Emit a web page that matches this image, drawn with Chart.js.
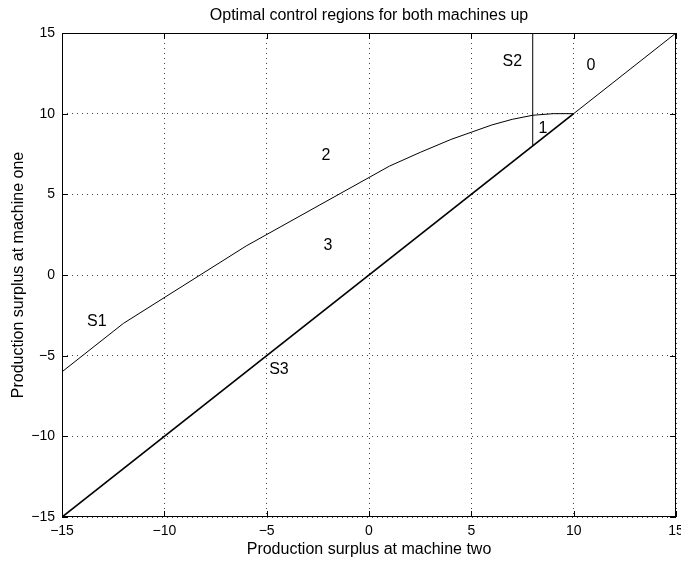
<!DOCTYPE html>
<html>
<head>
<meta charset="utf-8">
<script src="https://cdn.jsdelivr.net/npm/chart.js@4/dist/chart.umd.min.js"></script>
<style>
  html, body { margin: 0; padding: 0; background: #fff; }
  #wrap { width: 681px; height: 561px; position: relative; }
</style>
</head>
<body>
<div id="wrap"><canvas id="regions"></canvas></div>
<script>
// ── Switching curves (machine two surplus -> machine one surplus) ─────
const s1X = [-15, -12, -6, 1, 2.5, 4, 5, 6, 7, 8, 9, 10];
const s1Y = [-6, -3, 1.8, 6.75, 7.6, 8.4, 8.85, 9.3, 9.65, 9.9, 10, 10];

const s2X = [8, 8];
const s2Y = [8, 15];

const s3X = [-15, 10];
const s3Y = [-15, 10];

const diagX = [10, 15];
const diagY = [10, 15];

// region / curve labels
const labelText = ['S2', '0', '1', '2', '3', 'S1', 'S3'];
const labelX    = [7.0, 10.85, 8.5, -2.1, -2.0, -13.3, -4.4];
const labelY    = [13.2, 12.95, 9.05, 7.4, 1.85, -2.9, -5.85];

const tickVals = [-15, -10, -5, 0, 5, 10, 15];

const TITLE = 'Optimal control regions for both machines up';
const FONT = 'Liberation Sans, Arial, Helvetica, sans-serif';

function pts(xs, ys) { return xs.map((x, i) => ({ x, y: ys[i] })); }
function minus(v) { return String(v).replace('-', '\u2212'); }

// box, inward ticks, title over the axes and text labels, matlab style
const axesBox = {
  id: 'axesBox',
  afterDatasetsDraw(chart) {
    const { ctx, chartArea: a, scales: { x, y } } = chart;
    ctx.save();
    ctx.strokeStyle = '#000';
    ctx.lineWidth = 1;
    ctx.beginPath();
    tickVals.forEach(v => {
      const px = Math.round(x.getPixelForValue(v)) + 0.5;
      const py = Math.round(y.getPixelForValue(v)) + 0.5;
      ctx.moveTo(px, a.bottom); ctx.lineTo(px, a.bottom - 6);
      ctx.moveTo(px, a.top);    ctx.lineTo(px, a.top + 6);
      ctx.moveTo(a.left, py);   ctx.lineTo(a.left + 6, py);
      ctx.moveTo(a.right, py);  ctx.lineTo(a.right - 6, py);
    });
    ctx.stroke();
    ctx.strokeRect(Math.round(a.left) + 0.5, Math.round(a.top) + 0.5,
      Math.round(a.right - a.left) - 1, Math.round(a.bottom - a.top) - 1);

    ctx.fillStyle = '#000';
    ctx.font = '16px ' + FONT;
    ctx.textAlign = 'center';
    ctx.textBaseline = 'middle';
    ctx.fillText(TITLE, (a.left + a.right) / 2, 16);
    labelText.forEach((t, i) => {
      ctx.fillText(t, x.getPixelForValue(labelX[i]), y.getPixelForValue(labelY[i]));
    });
    ctx.restore();
  }
};

const line = (data, width) => ({
  data, showLine: true, borderColor: '#000', borderWidth: width,
  pointRadius: 0, fill: false, tension: 0
});

new Chart(document.getElementById('regions'), {
  type: 'scatter',
  data: {
    datasets: [
      line(pts(s1X, s1Y), 1),
      line(pts(s2X, s2Y), 1),
      line(pts(s3X, s3Y), 1.7),
      line(pts(diagX, diagY), 1),
    ]
  },
  options: {
    responsive: true,
    maintainAspectRatio: false,
    animation: false,
    events: [],
    layout: { padding: { left: 0, right: 5, top: 33, bottom: 0 } },
    plugins: {
      legend: { display: false },
      tooltip: { enabled: false },
      title: { display: false }
    },
    scales: {
      x: {
        type: 'linear', min: -15, max: 15,
        afterFit: s => { s.height = 44; s.paddingLeft = 0; s.paddingRight = 0; },
        ticks: { stepSize: 5, color: '#000', padding: 6, maxRotation: 0,
          font: { family: FONT, size: 14 }, callback: v => minus(v) },
        grid: { color: '#444', lineWidth: 1, drawTicks: false },
        border: { display: false, dash: [1, 4] },
        title: { display: true, text: 'Production surplus at machine two', color: '#000',
          font: { family: FONT, size: 16 }, padding: { top: 0, bottom: 2 } }
      },
      y: {
        type: 'linear', min: -15, max: 15,
        afterFit: s => { s.width = 62; s.paddingTop = 0; s.paddingBottom = 0; },
        ticks: { stepSize: 5, color: '#000', padding: 7,
          font: { family: FONT, size: 14 }, callback: v => minus(v) },
        grid: { color: '#444', lineWidth: 1, drawTicks: false },
        border: { display: false, dash: [1, 4] },
        title: { display: true, text: 'Production surplus at machine one', color: '#000',
          font: { family: FONT, size: 16 }, padding: { top: 9, bottom: 0 } }
      }
    }
  },
  plugins: [axesBox]
});
</script>
</body>
</html>
